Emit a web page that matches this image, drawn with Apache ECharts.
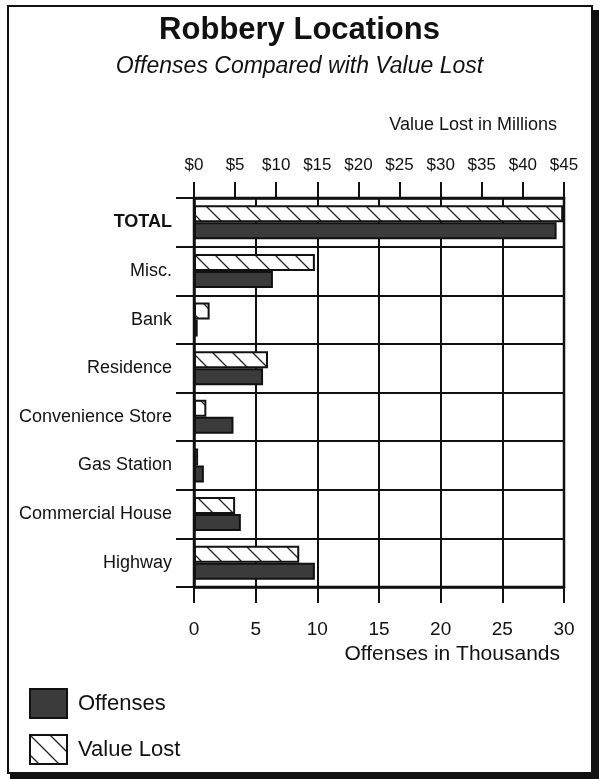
<!DOCTYPE html>
<html>
<head>
<meta charset="utf-8">
<script src="https://cdn.jsdelivr.net/npm/echarts@6/dist/echarts.min.js"></script>
<style>
  html, body { margin: 0; padding: 0; background: #fff; }
  #chart { width: 599px; height: 779px; }
</style>
</head>
<body>
<div id="chart"></div>
<script>
// 資料：類別、兩組數值、刻度
var categories = ["TOTAL", "Misc.", "Bank", "Residence", "Convenience Store", "Gas Station", "Commercial House", "Highway"];
var valueLost = [44.9, 14.7, 1.9, 9.0, 1.5, 0.5, 5.0, 12.8];   // 百萬美元
var offenses  = [29.4, 6.4, 0.3, 5.6, 3.2, 0.8, 3.8, 9.8];     // 千件
var valueTicks = { min: 0, max: 45, step: 5 };
var offenseTicks = { min: 0, max: 30, step: 5 };

(function () {
  "use strict";
  var FONT = "'Liberation Sans', Arial, sans-serif";
  var INK = "#111";

  // 斜線填色（\ 方向）
  function hatch() {
    var cv = document.createElement("canvas");
    cv.width = 20; cv.height = 20;
    var g = cv.getContext("2d");
    g.fillStyle = "#fff"; g.fillRect(0, 0, 20, 20);
    g.strokeStyle = "#222"; g.lineWidth = 1.3;
    g.beginPath();
    g.moveTo(0, 0); g.lineTo(20, 20);
    g.moveTo(-10, 10); g.lineTo(10, 30);
    g.moveTo(10, -10); g.lineTo(30, 10);
    g.stroke();
    return { image: cv, repeat: "repeat" };
  }

  var chart = echarts.init(document.getElementById("chart"), null, { renderer: "canvas" });
  chart.setOption({
    animation: false,
    backgroundColor: "#fff",
    textStyle: { fontFamily: FONT, color: INK },
    grid: { left: 194, right: 35, top: 198, bottom: 192, show: true, borderColor: INK, borderWidth: 2.5, backgroundColor: "transparent" },
    legend: {
      orient: "vertical", left: 24, top: 683, itemGap: 15,
      itemWidth: 37, itemHeight: 29, icon: "rect",
      data: ["Offenses", "Value Lost"],
      textStyle: { fontFamily: FONT, fontSize: 22, color: INK, padding: [0, 0, 0, 6] }
    },
    xAxis: [{
      type: "value", position: "top",
      min: valueTicks.min, max: valueTicks.max, interval: valueTicks.step,
      axisLine: { show: true, lineStyle: { color: INK, width: 2.5 } },
      axisTick: { show: true, length: 16, lineStyle: { color: INK, width: 2 } },
      splitLine: { show: false },
      axisLabel: { margin: 24, fontSize: 17, color: INK, fontFamily: FONT, formatter: function (v) { return "$" + v; } }
    }, {
      type: "value", position: "bottom",
      min: offenseTicks.min, max: offenseTicks.max, interval: offenseTicks.step,
      axisLine: { show: true, lineStyle: { color: INK, width: 2.5 } },
      axisTick: { show: true, length: 16, lineStyle: { color: INK, width: 2 } },
      splitLine: { show: true, lineStyle: { color: INK, width: 2 } },
      axisLabel: { margin: 33, fontSize: 19, color: INK, fontFamily: FONT }
    }],
    yAxis: {
      type: "category", data: categories, inverse: true,
      axisLine: { show: true, lineStyle: { color: INK, width: 2.5 } },
      axisTick: { show: true, length: 18, lineStyle: { color: INK, width: 2 } },
      splitLine: { show: true, lineStyle: { color: INK, width: 2 } },
      axisLabel: {
        margin: 22, fontSize: 18, color: INK, fontFamily: FONT,
        formatter: function (v) { return v === "TOTAL" ? "{b|" + v + "}" : v; },
        rich: { b: { fontWeight: "bold", fontSize: 18, fontFamily: FONT, color: INK } }
      }
    },
    series: [{
      name: "Value Lost", type: "bar", xAxisIndex: 0, data: valueLost,
      barWidth: 17, barGap: "0%",
      itemStyle: { color: hatch(), borderColor: INK, borderWidth: 2 }
    }, {
      name: "Offenses", type: "bar", xAxisIndex: 1, data: offenses,
      barWidth: 17, barGap: "0%",
      itemStyle: { color: "#3b3b3b", borderColor: INK, borderWidth: 2 }
    }],
    graphic: [
      { type: "rect", shape: { x: 592, y: 10, width: 7, height: 769 }, style: { fill: "#111" }, silent: true },
      { type: "rect", shape: { x: 10, y: 773, width: 589, height: 6 }, style: { fill: "#111" }, silent: true },
      { type: "rect", shape: { x: 8, y: 6, width: 584, height: 767 }, style: { fill: null, stroke: INK, lineWidth: 2 }, silent: true },
      { type: "text", left: "center", top: 15, style: { text: "Robbery Locations", font: "bold 31px " + FONT, fill: INK } },
      { type: "text", left: "center", top: 55, style: { text: "Offenses Compared with Value Lost", font: "italic 23px " + FONT, fill: INK } },
      { type: "text", right: 42, top: 116, style: { text: "Value Lost in Millions", font: "18px " + FONT, fill: INK } },
      { type: "text", right: 39, top: 644, style: { text: "Offenses in Thousands", font: "21px " + FONT, fill: INK } }
    ]
  });
})();
</script>
</body>
</html>
